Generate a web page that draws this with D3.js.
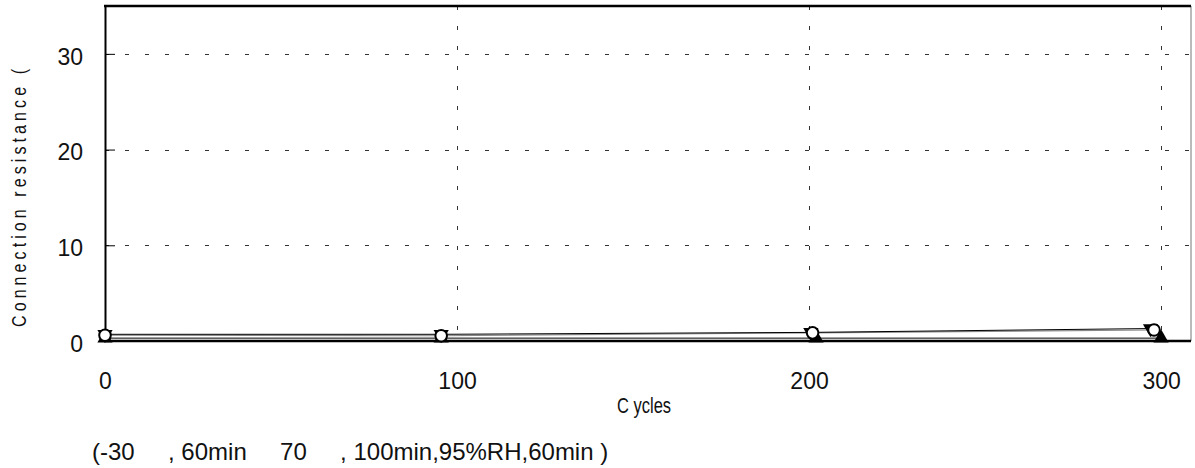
<!DOCTYPE html>
<html>
<head>
<meta charset="utf-8">
<script src="https://cdn.jsdelivr.net/npm/d3@7/dist/d3.min.js"></script>
<style>
  html, body { margin: 0; padding: 0; background: #fff; }
  svg { display: block; font-family: "Liberation Sans", Arial, sans-serif; }
</style>
</head>
<body>
<svg id="chart" width="1195" height="468"></svg>
<script>
// Cycle ticks and axis ranges
const xTicks = [0, 100, 200, 300];
const yTicks = [0, 10, 20, 30];
const xMax = 308.5;
const yMax = 35;

// Measured samples (cycle position, resistance)
const cyclesDown = [0, 95.5, 200.5, 297];
const valuesDown = [0.7, 0.7, 0.9, 1.3];
const cyclesCircle = [0, 95.5, 201, 298];
const valuesCircle = [0.6, 0.55, 0.85, 1.15];
const cyclesUp = [0, 95.5, 202, 300];
const valuesUp = [0.3, 0.3, 0.3, 0.3];

const yLabel = "Connection resistance (";
const xLabel = "C ycles";
const note = "(-30     , 60min     70     , 100min,95%RH,60min )";

const svg = d3.select("#chart");
const plotLeft = 105, plotRight = 1191, plotTop = 6, plotBottom = 341;

const x = d3.scaleLinear().domain([0, xMax]).range([plotLeft, plotRight]);
const y = d3.scaleLinear().domain([0, yMax]).range([plotBottom, plotTop]);

// dashed grid
const grid = svg.append("g").attr("stroke", "#333").attr("stroke-width", 1)
  .attr("stroke-dasharray", "4,16").attr("shape-rendering", "crispEdges");
grid.selectAll("line.h").data(yTicks.filter(d => d > 0)).enter().append("line")
  .attr("x1", plotLeft).attr("x2", plotRight)
  .attr("y1", d => Math.round(y(d)) + 0.5).attr("y2", d => Math.round(y(d)) + 0.5);
grid.selectAll("line.v").data(xTicks.filter(d => d > 0)).enter().append("line")
  .attr("y1", plotTop).attr("y2", plotBottom)
  .attr("x1", d => Math.round(x(d)) + 0.5).attr("x2", d => Math.round(x(d)) + 0.5);

// right frame edge
svg.append("line").attr("x1", plotRight).attr("x2", plotRight).attr("y1", plotTop).attr("y2", plotBottom)
  .attr("stroke", "#777").attr("stroke-width", 1);

// y axis
const yAxis = d3.axisLeft(y).tickValues(yTicks).tickSizeInner(-10).tickSizeOuter(0).tickPadding(22);
const gy = svg.append("g").attr("transform", `translate(${plotLeft},0)`).call(yAxis);
gy.select(".domain").attr("stroke", "#000").attr("stroke-width", 2);
gy.selectAll(".tick line").attr("stroke", "#000").attr("stroke-width", 1);
gy.selectAll(".tick text").attr("font-size", 23).attr("fill", "#111")
  .attr("font-family", "Liberation Sans, Arial, sans-serif").attr("dy", "0.45em");

// x axis
const xAxis = d3.axisBottom(x).tickValues(xTicks).tickSize(0).tickPadding(32);
const gx = svg.append("g").attr("transform", `translate(0,${plotBottom})`).call(xAxis);
gx.select(".domain").remove();
gx.selectAll(".tick text").attr("font-size", 23).attr("fill", "#111")
  .attr("font-family", "Liberation Sans, Arial, sans-serif");

// series lines
const pts = (xs, ys) => xs.map((c, i) => [c, ys[i]]);
const line = d3.line().x(d => x(d[0])).y(d => y(d[1]));
svg.append("path").datum(pts(cyclesUp, valuesUp)).attr("d", line)
  .attr("fill", "none").attr("stroke", "#000").attr("stroke-width", 1);
svg.append("path").datum(pts(cyclesCircle, valuesCircle)).attr("d", line)
  .attr("fill", "none").attr("stroke", "#888").attr("stroke-width", 1.2);
svg.append("path").datum(pts(cyclesDown, valuesDown)).attr("d", line)
  .attr("fill", "none").attr("stroke", "#000").attr("stroke-width", 1);

// bottom axis line and top frame edge
svg.append("line").attr("x1", plotLeft - 1).attr("x2", plotRight).attr("y1", plotBottom).attr("y2", plotBottom)
  .attr("stroke", "#000").attr("stroke-width", 2.5);
svg.append("line").attr("x1", plotLeft - 1).attr("x2", plotRight).attr("y1", plotTop).attr("y2", plotTop)
  .attr("stroke", "#000").attr("stroke-width", 2.5);

// markers
const triUp = d3.symbol().type(d3.symbolTriangle).size(100);
svg.append("g").selectAll("path").data(pts(cyclesUp, valuesUp)).enter().append("path")
  .attr("d", triUp).attr("transform", d => `translate(${x(d[0])},${y(d[1])})`)
  .attr("fill", "#000");
svg.append("g").selectAll("path").data(pts(cyclesDown, valuesDown)).enter().append("path")
  .attr("d", triUp).attr("transform", d => `translate(${x(d[0])},${y(d[1])}) rotate(180)`)
  .attr("fill", "#000");
svg.append("g").selectAll("circle").data(pts(cyclesCircle, valuesCircle)).enter().append("circle")
  .attr("cx", d => x(d[0])).attr("cy", d => y(d[1])).attr("r", 5.8)
  .attr("fill", "#fff").attr("stroke", "#000").attr("stroke-width", 2);

// axis titles (narrow face, widely tracked)
svg.append("text").attr("transform", "translate(26,198) rotate(-90) scale(0.8,1)")
  .attr("text-anchor", "middle").attr("font-size", 20)
  .attr("textLength", 258 / 0.8).attr("lengthAdjust", "spacing")
  .attr("fill", "#111").text(yLabel);
svg.append("text").attr("transform", "translate(617,413) scale(0.75,1)")
  .attr("font-size", 22).attr("fill", "#111").style("white-space", "pre").text(xLabel);

// test condition note
svg.append("text").attr("x", 92).attr("y", 460).attr("font-size", 24)
  .attr("fill", "#111").style("white-space", "pre").text(note);
</script>
</body>
</html>
